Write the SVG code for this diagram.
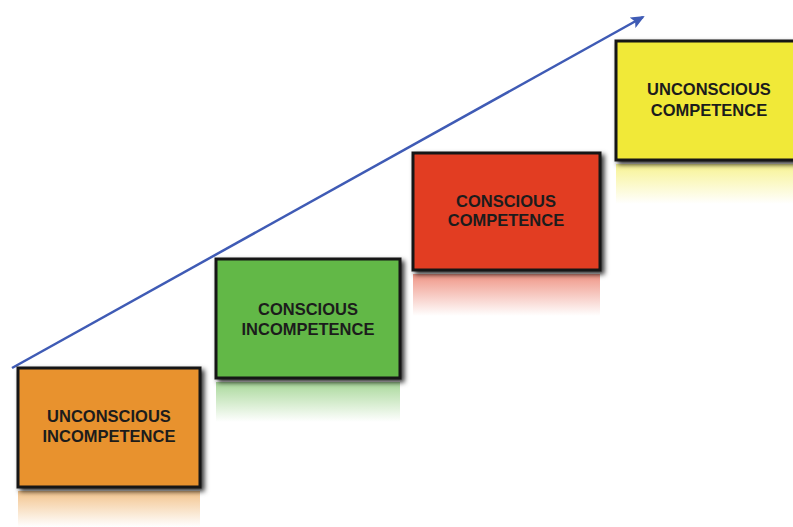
<svg xmlns="http://www.w3.org/2000/svg" width="793" height="527" viewBox="0 0 793 527">
<style>
.box{stroke:#141414;stroke-width:3;filter:url(#sh)}
.lbl{font-family:"Liberation Sans",Arial,sans-serif;font-weight:bold;font-size:16.5px;fill:#1c1c1c;text-anchor:middle}
</style>
<defs>
<filter id="sh" x="-10%" y="-10%" width="125%" height="130%">
<feGaussianBlur in="SourceAlpha" stdDeviation="2.5"/>
<feOffset dx="3" dy="3" result="b"/>
<feFlood flood-color="#000" flood-opacity="0.8"/>
<feComposite in2="b" operator="in"/>
<feMerge><feMergeNode/><feMergeNode in="SourceGraphic"/></feMerge>
</filter>
<linearGradient id="gO" x1="0" y1="0" x2="0" y2="1"><stop offset="0" stop-color="#E8922D" stop-opacity="0.55"/><stop offset="1" stop-color="#E8922D" stop-opacity="0"/></linearGradient>
<linearGradient id="gG" x1="0" y1="0" x2="0" y2="1"><stop offset="0" stop-color="#62B847" stop-opacity="0.55"/><stop offset="1" stop-color="#62B847" stop-opacity="0"/></linearGradient>
<linearGradient id="gR" x1="0" y1="0" x2="0" y2="1"><stop offset="0" stop-color="#E23E22" stop-opacity="0.55"/><stop offset="1" stop-color="#E23E22" stop-opacity="0"/></linearGradient>
<linearGradient id="gY" x1="0" y1="0" x2="0" y2="1"><stop offset="0" stop-color="#F1E939" stop-opacity="0.55"/><stop offset="1" stop-color="#F1E939" stop-opacity="0"/></linearGradient>
<marker id="ah" markerWidth="14" markerHeight="12" refX="12" refY="6" orient="auto" markerUnits="userSpaceOnUse" viewBox="0 0 14 12">
<path d="M0,0 L14,6 L0,12 L3,6 Z" fill="#3F5BB5"/>
</marker>
</defs>
<rect width="793" height="527" fill="#fff"/>
<g id="connectors">
<line x1="12" y1="368" x2="643" y2="17" stroke="#3F5BB5" stroke-width="2.5" marker-end="url(#ah)"/>
</g>
<g id="unconscious-incompetence">
<rect x="18" y="491" width="182" height="36" fill="url(#gO)"/>
<rect class="box" x="18" y="368" width="182" height="119" fill="#E8922D"/>
<text class="lbl" x="109" y="422">UNCONSCIOUS</text>
<text class="lbl" x="109" y="442">INCOMPETENCE</text>
</g>
<g id="conscious-incompetence">
<rect x="216" y="382" width="184" height="40" fill="url(#gG)"/>
<rect class="box" x="216" y="259" width="184" height="119" fill="#62B847"/>
<text class="lbl" x="308" y="315">CONSCIOUS</text>
<text class="lbl" x="308" y="335">INCOMPETENCE</text>
</g>
<g id="conscious-competence">
<rect x="413" y="274" width="187" height="42" fill="url(#gR)"/>
<rect class="box" x="413" y="153" width="187" height="117" fill="#E23E22"/>
<text class="lbl" x="506" y="207">CONSCIOUS</text>
<text class="lbl" x="506" y="226">COMPETENCE</text>
</g>
<g id="unconscious-competence">
<rect x="616" y="164" width="190" height="40" fill="url(#gY)"/>
<rect class="box" x="616" y="41" width="190" height="119" fill="#F1E939"/>
<text class="lbl" x="709" y="95">UNCONSCIOUS</text>
<text class="lbl" x="709" y="116">COMPETENCE</text>
</g>
</svg>
